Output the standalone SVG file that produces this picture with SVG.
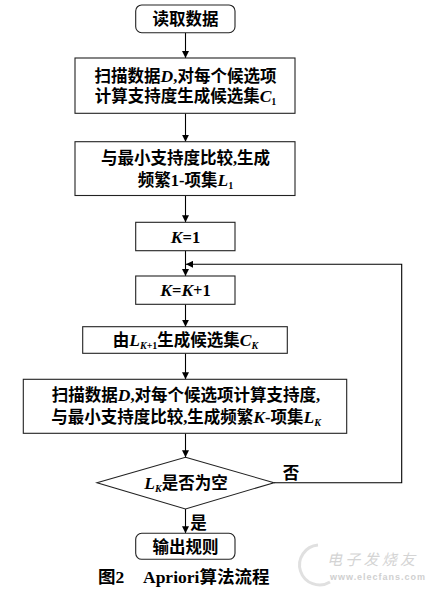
<svg xmlns="http://www.w3.org/2000/svg" width="434" height="593" viewBox="0 0 434 593">
<defs>
<marker id="arr" viewBox="0 0 10 10" refX="10" refY="5" markerWidth="7" markerHeight="7" markerUnits="userSpaceOnUse" orient="auto">
<path d="M0,0 L10,5 L0,10 z" fill="#000"/>
</marker>
<style>
.box{fill:#fff;stroke:#222;stroke-width:1.1}
.ln{fill:none;stroke:#000;stroke-width:1.1}
.t{font-family:"Liberation Serif","Noto Sans CJK SC",serif;font-weight:bold;font-size:16.5px;fill:#000;text-anchor:middle}
.i{font-style:italic;font-size:17.5px}
.s{font-size:10px;font-style:normal}
.si{font-size:10px;font-style:italic}
.wm{font-family:"Noto Sans CJK SC",sans-serif;fill:#d4d4d4;font-size:15px;font-style:italic}
.wm2{font-family:"Liberation Sans",sans-serif;fill:#d0d0d0;font-size:9px;font-weight:bold}
</style>
</defs>
<rect width="434" height="593" fill="#fff"/>

<g id="connectors">
<line class="ln" x1="185.5" y1="32.7" x2="185.5" y2="58" marker-end="url(#arr)"/>
<line class="ln" x1="185.5" y1="113.3" x2="185.5" y2="141.7" marker-end="url(#arr)"/>
<line class="ln" x1="185.5" y1="195.5" x2="185.5" y2="222.3" marker-end="url(#arr)"/>
<line class="ln" x1="185.5" y1="250.7" x2="185.5" y2="276" marker-end="url(#arr)"/>
<line class="ln" x1="185.5" y1="304.3" x2="185.5" y2="326.7" marker-end="url(#arr)"/>
<line class="ln" x1="185.5" y1="353.3" x2="185.5" y2="379.3" marker-end="url(#arr)"/>
<line class="ln" x1="185.5" y1="433.3" x2="185.5" y2="457.3" marker-end="url(#arr)"/>
<line class="ln" x1="185.5" y1="509" x2="185.5" y2="533.3" marker-end="url(#arr)"/>
<polyline class="ln" points="274,482.7 401.7,482.7 401.7,264.3 186,264.3" marker-end="url(#arr)"/>
<text class="t" x="291" y="479">否</text>
<text class="t" x="198.5" y="529">是</text>
</g>

<g id="start">
<rect class="box" x="135.7" y="5" width="99.3" height="27.7" rx="6"/>
<text class="t" x="185.5" y="25">读取数据</text>
</g>

<g id="scan1">
<rect class="box" x="75" y="58" width="220" height="55.3"/>
<text class="t" x="185.5" y="82">扫描数据<tspan class="i">D</tspan>,对每个候选项</text>
<text class="t" x="185.5" y="101.5">计算支持度生成候选集<tspan class="i">C</tspan><tspan class="s" dy="3">1</tspan></text>
</g>

<g id="compare1">
<rect class="box" x="75" y="141.7" width="220" height="53.8"/>
<text class="t" x="185.5" y="164">与最小支持度比较,生成</text>
<text class="t" x="185.5" y="186">频繁1-项集<tspan class="i">L</tspan><tspan class="s" dy="3">1</tspan></text>
</g>

<g id="k1">
<rect class="box" x="135.7" y="222.3" width="99.3" height="28.4"/>
<text class="t" x="185.5" y="242.5"><tspan class="i">K</tspan>=1</text>
</g>

<g id="kinc">
<rect class="box" x="135.7" y="276" width="99.3" height="28.3"/>
<text class="t" x="185.5" y="296"><tspan class="i">K</tspan>=<tspan class="i">K</tspan>+1</text>
</g>

<g id="gen">
<rect class="box" x="82.7" y="326.7" width="204.6" height="26.6"/>
<text class="t" x="185.5" y="346">由<tspan class="i">L</tspan><tspan class="si" dy="3">K</tspan><tspan class="s">+1</tspan><tspan dy="-3">生成候选集</tspan><tspan class="i">C</tspan><tspan class="si" dy="3">K</tspan></text>
</g>

<g id="scan2">
<rect class="box" x="23.3" y="379.3" width="323.4" height="54"/>
<text class="t" x="186" y="401">扫描数据<tspan class="i">D</tspan>,对每个候选项计算支持度,</text>
<text class="t" x="186" y="423">与最小支持度比较,生成频繁<tspan class="i">K</tspan>-项集<tspan class="i">L</tspan><tspan class="si" dy="3">K</tspan></text>
</g>

<g id="decision">
<polygon class="box" points="185.5,457.3 274,482.7 185.5,509 97,482.7"/>
<text class="t" x="186" y="489"><tspan class="i">L</tspan><tspan class="si" dy="3">K</tspan><tspan dy="-3">是否为空</tspan></text>
</g>

<g id="end">
<rect class="box" x="135.7" y="533.3" width="99.3" height="26" rx="6"/>
<text class="t" x="185.5" y="552.5">输出规则</text>
</g>

<g id="caption">
<text class="t" x="98" y="583" style="text-anchor:start;font-size:17.5px">图2</text>
<text class="t" x="143" y="583" style="text-anchor:start;font-size:17.5px">Apriori算法流程</text>
</g>

<g id="watermark">
<path d="M318,545 A20,20 0 1,0 330,582" fill="none" stroke="#e0e0e0" stroke-width="3"/>
<text class="wm" x="327" y="565" textLength="88">电子发烧友</text>
<text class="wm2" x="330" y="580" textLength="95">www.elecfans.com</text>
</g>
</svg>
